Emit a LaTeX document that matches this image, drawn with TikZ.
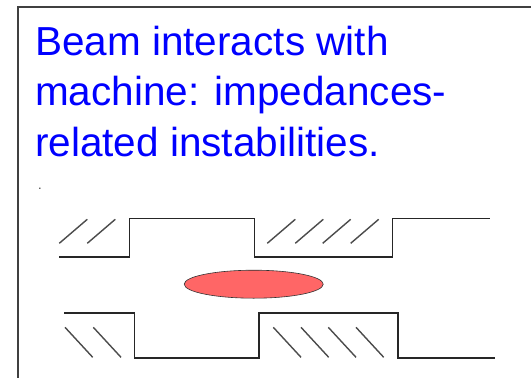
\documentclass[tikz,border=0pt]{standalone}
\usepackage{fontspec}
\setmainfont{Liberation Sans}
\usetikzlibrary{shapes.geometric}
\definecolor{titleblue}{HTML}{0000FF}
\definecolor{beamred}{HTML}{FF6666}
\definecolor{framegray}{HTML}{404040}
\begin{document}
\begin{tikzpicture}[x=1pt,y=-1pt,
  title/.style={anchor=base west, inner sep=0pt, text=titleblue,
    font=\fontsize{40.5}{48}\selectfont},
  wall/.style={draw=black!85, line width=1.6pt, line join=miter},
  hatch/.style={draw=black!70, line width=1.4pt},
  frame/.style={draw=framegray, line width=2pt},
  bunch/.style={ellipse, draw=black!80, line width=0.6pt, fill=beamred,
    minimum width=139pt, minimum height=28pt, inner sep=0pt}]
\useasboundingbox (0,0) rectangle (531,378);
\fill[white] (0,0) rectangle (531,378);

% slide frame
\draw[frame] (18,380) -- (18,6.7) -- (533,6.7);

% title
\node[title] (l1) at (35,55) {Beam interacts with};
\node[title] (l2) at (35,105) {machine: impedances-};
\node[title] (l3) at (35,156.5) {related instabilities.};
\node[inner sep=0pt, font=\fontsize{13}{13}\selectfont, anchor=base,
  text=black!75] (dot) at (40,189) {.};

% upper chamber wall
\draw[wall] (59,256.7) -- (129.3,256.7) -- (129.3,218.3) -- (254.3,218.3)
  -- (254.3,256.7) -- (392.3,256.7) -- (392.3,218.3) -- (490,218.3);
\foreach \x in {59.3,87.3,267.3,295.3,322.7,350.7}
  \draw[hatch] (\x,243.3) -- ++(28,-24);

% lower chamber wall
\draw[wall] (64.3,312.7) -- (134.3,312.7) -- (134.3,357.7) -- (259,357.7)
  -- (259,312.7) -- (397.7,312.7) -- (397.7,357.7) -- (495,357.7);
\foreach \x in {65,93.3,273.3,301,328.3,356}
  \draw[hatch] (\x,327.3) -- ++(27.7,30);

% beam bunch
\node[bunch] (beam) at (253.7,284.2) {};
\end{tikzpicture}
\end{document}
